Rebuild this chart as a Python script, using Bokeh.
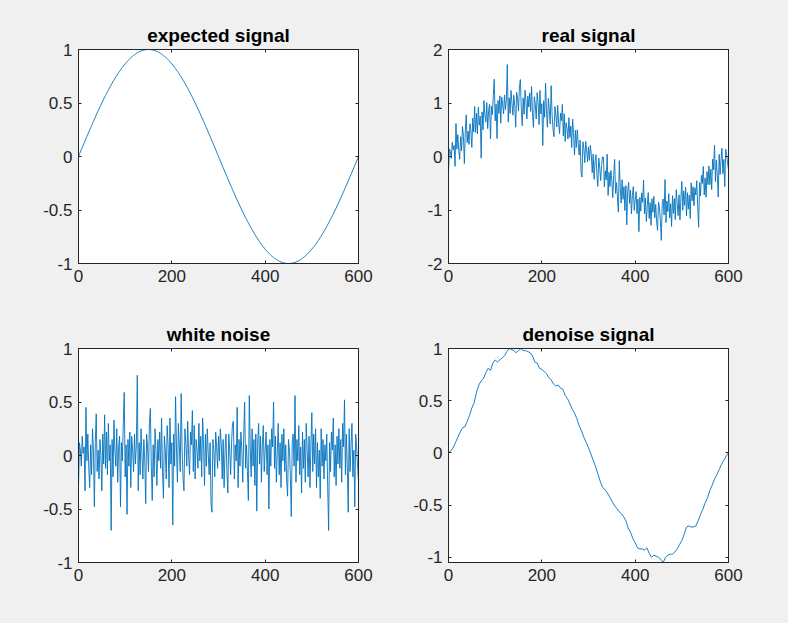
from bokeh.plotting import figure
from bokeh.layouts import column, row
from bokeh.models import (Range1d, LinearAxis, FixedTicker, CustomJSTickFormatter,
                          CustomLabelingPolicy)
from bokeh.embed import file_html
from bokeh.resources import INLINE

# ---------------- data ----------------
sample_x = list(range(0, 601, 2))  # sample positions of the signals

expected = [
    0.000, 0.021, 0.042, 0.063, 0.084, 0.105, 0.125, 0.146, 0.167, 0.187,
    0.208, 0.228, 0.249, 0.269, 0.289, 0.309, 0.329, 0.349, 0.368, 0.388,
    0.407, 0.426, 0.445, 0.463, 0.482, 0.500, 0.518, 0.536, 0.554, 0.571,
    0.588, 0.605, 0.621, 0.637, 0.653, 0.669, 0.685, 0.700, 0.714, 0.729,
    0.743, 0.757, 0.771, 0.784, 0.797, 0.809, 0.821, 0.833, 0.844, 0.855,
    0.866, 0.876, 0.886, 0.896, 0.905, 0.914, 0.922, 0.930, 0.937, 0.944,
    0.951, 0.957, 0.963, 0.969, 0.974, 0.978, 0.982, 0.986, 0.989, 0.992,
    0.995, 0.996, 0.998, 0.999, 1.000, 1.000,
    1.000, 0.999, 0.998, 0.996, 0.995, 0.992, 0.989, 0.986, 0.982, 0.978,
    0.974, 0.969, 0.963, 0.957, 0.951, 0.944, 0.937, 0.930, 0.922, 0.914,
    0.905, 0.896, 0.886, 0.876, 0.866, 0.855, 0.844, 0.833, 0.821, 0.809,
    0.797, 0.784, 0.771, 0.757, 0.743, 0.729, 0.714, 0.700, 0.685, 0.669,
    0.653, 0.637, 0.621, 0.605, 0.588, 0.571, 0.554, 0.536, 0.518, 0.500,
    0.482, 0.463, 0.445, 0.426, 0.407, 0.388, 0.368, 0.349, 0.329, 0.309,
    0.289, 0.269, 0.249, 0.228, 0.208, 0.187, 0.167, 0.146, 0.125, 0.105,
    0.084, 0.063, 0.042, 0.021, 0.000,
    -0.021, -0.042, -0.063, -0.084, -0.105, -0.125, -0.146, -0.167, -0.187,
    -0.208, -0.228, -0.249, -0.269, -0.289, -0.309, -0.329, -0.349, -0.368, -0.388,
    -0.407, -0.426, -0.445, -0.463, -0.482, -0.500, -0.518, -0.536, -0.554, -0.571,
    -0.588, -0.605, -0.621, -0.637, -0.653, -0.669, -0.685, -0.700, -0.714, -0.729,
    -0.743, -0.757, -0.771, -0.784, -0.797, -0.809, -0.821, -0.833, -0.844, -0.855,
    -0.866, -0.876, -0.886, -0.896, -0.905, -0.914, -0.922, -0.930, -0.937, -0.944,
    -0.951, -0.957, -0.963, -0.969, -0.974, -0.978, -0.982, -0.986, -0.989, -0.992,
    -0.995, -0.996, -0.998, -0.999, -1.000, -1.000,
    -1.000, -0.999, -0.998, -0.996, -0.995, -0.992, -0.989, -0.986, -0.982, -0.978,
    -0.974, -0.969, -0.963, -0.957, -0.951, -0.944, -0.937, -0.930, -0.922, -0.914,
    -0.905, -0.896, -0.886, -0.876, -0.866, -0.855, -0.844, -0.833, -0.821, -0.809,
    -0.797, -0.784, -0.771, -0.757, -0.743, -0.729, -0.714, -0.700, -0.685, -0.669,
    -0.653, -0.637, -0.621, -0.605, -0.588, -0.571, -0.554, -0.536, -0.518, -0.500,
    -0.482, -0.463, -0.445, -0.426, -0.407, -0.388, -0.368, -0.349, -0.329, -0.309,
    -0.289, -0.269, -0.249, -0.228, -0.208, -0.187, -0.167, -0.146, -0.125, -0.105,
    -0.084, -0.063, -0.042, -0.021, 0.000,
]

noise = [
    -0.30, 0.12, 0.05, -0.10, 0.18, 0.02, 0.08, -0.33, 0.45, -0.05,
    0.20, -0.12, -0.30, 0.10, -0.18, 0.25, 0.05, -0.48, 0.12, 0.39,
    -0.15, 0.05, -0.22, 0.15, 0.00, -0.33, 0.20, -0.08, 0.38, -0.12,
    0.22, -0.18, 0.30, -0.05, 0.10, -0.70, 0.15, -0.20, 0.33, 0.05,
    -0.10, 0.25, -0.25, 0.08, 0.18, -0.48, 0.12, -0.05, 0.30, 0.59,
    -0.20, 0.10, -0.55, 0.15, -0.10, 0.22, -0.30, 0.18, 0.05, -0.15,
    0.20, -0.08, 0.10, 0.75, -0.33, 0.12, -0.18, 0.25, 0.00, -0.22,
    0.15, -0.05, -0.45, 0.20, 0.08, -0.15, 0.30, 0.44, -0.10, -0.42,
    0.10, -0.20, 0.25, 0.05, -0.28, 0.15, -0.05, 0.22, -0.12, 0.35,
    -0.15, -0.40, 0.18, 0.05, -0.22, 0.28, 0.10, -0.30, 0.35, -0.08,
    0.12, -0.65, 0.20, -0.10, 0.55, 0.05, -0.25, 0.30, 0.10, -0.15,
    0.58, 0.05, -0.20, -0.33, 0.25, 0.12, -0.10, 0.32, 0.00, -0.18,
    0.22, 0.10, 0.42, -0.15, 0.28, -0.22, 0.15, 0.05, -0.12, 0.30,
    -0.05, 0.18, -0.20, 0.35, 0.10, -0.28, 0.20, -0.10, 0.25, 0.02,
    -0.18, 0.12, -0.45, -0.53, 0.15, 0.05, -0.20, 0.22, 0.08, -0.12,
    0.18, -0.05, 0.25, 0.10, -0.22, 0.15, -0.30, 0.05, 0.20, -0.15,
    -0.35, 0.20, 0.05, -0.18, 0.12, 0.30, 0.32, -0.22, 0.10, -0.05,
    0.45, -0.30, 0.15, -0.10, 0.22, 0.05, -0.25, 0.18, 0.50, -0.12,
    0.10, -0.15, -0.42, 0.56, 0.08, -0.20, 0.25, -0.10, 0.15, -0.28,
    0.20, -0.52, 0.12, 0.30, -0.08, 0.18, -0.25, 0.10, 0.28, -0.15,
    0.05, 0.22, -0.18, 0.10, -0.50, 0.15, -0.10, 0.25, 0.08, 0.50,
    -0.12, 0.18, -0.25, 0.05, 0.30, -0.18, 0.12, -0.30, 0.20, -0.05,
    0.25, -0.15, 0.10, -0.22, -0.38, 0.15, 0.05, -0.20, -0.57, 0.12,
    0.20, -0.10, 0.56, -0.25, 0.15, -0.05, 0.28, -0.18, 0.08, -0.35,
    0.22, -0.12, 0.15, -0.25, 0.30, 0.05, -0.20, 0.18, -0.30, 0.10,
    0.40, -0.15, 0.20, -0.08, 0.25, -0.30, 0.12, -0.20, 0.05, -0.40,
    0.25, -0.10, 0.15, -0.22, 0.10, -0.05, 0.20, -0.30, -0.70, 0.12,
    -0.15, 0.22, 0.05, 0.35, -0.20, 0.10, -0.28, 0.18, -0.08, 0.25,
    -0.12, 0.15, -0.25, 0.30, 0.08, 0.52, -0.18, 0.20, -0.10, -0.53,
    0.25, -0.15, 0.10, 0.30, -0.20, 0.05, -0.48, 0.20, 0.08, -0.10,
    -0.25,
]

real = [e + n for e, n in zip(expected, noise)]

denoise_x = list(range(0, 601, 5))
denoise = [
    0.00, 0.02, 0.05, 0.10, 0.15, 0.20, 0.24, 0.25, 0.30, 0.36,
    0.43, 0.48, 0.58, 0.65, 0.69, 0.71, 0.77, 0.81, 0.79, 0.86,
    0.89, 0.87, 0.89, 0.91, 0.93, 0.97, 1.00, 0.99, 0.98, 0.96,
    0.98, 1.00, 0.98, 0.98, 0.97, 0.96, 0.93, 0.87, 0.86, 0.81,
    0.80, 0.78, 0.76, 0.72, 0.70, 0.66, 0.64, 0.65, 0.62, 0.61,
    0.55, 0.52, 0.47, 0.42, 0.38, 0.33, 0.26, 0.21, 0.15, 0.10,
    0.05, -0.01, -0.07, -0.13, -0.20, -0.27, -0.33, -0.35, -0.38, -0.42,
    -0.46, -0.50, -0.53, -0.56, -0.58, -0.61, -0.65, -0.72, -0.76, -0.82,
    -0.86, -0.91, -0.92, -0.92, -0.93, -0.91, -0.96, -1.00, -0.98, -0.99,
    -1.00, -1.02, -1.05, -1.00, -0.98, -0.97, -0.97, -0.95, -0.92, -0.88,
    -0.84, -0.78, -0.71, -0.70, -0.71, -0.71, -0.70, -0.65, -0.59, -0.54,
    -0.48, -0.43, -0.36, -0.31, -0.25, -0.21, -0.16, -0.11, -0.07, -0.03,
    0.00,
]

titles = ["expected signal", "real signal", "white noise", "denoise signal"]
x_ticks = [0, 200, 400, 600]
y_ticks_unit = [-1, -0.5, 0, 0.5, 1]
y_ticks_two = [-2, -1, 0, 1, 2]

# ---------------- styling ----------------
BG = "#f0f0f0"
AX = "#262626"
LINE = "#0072bd"
FONT = "Liberation Sans"
FRAME_W, FRAME_H = 280, 214

NO_LABELS = """
for (const i of indices) indices.unset(i)
return indices
"""


def mirror_axis(ticks):
    return LinearAxis(ticker=FixedTicker(ticks=ticks), major_tick_in=3, major_tick_out=0,
                      minor_tick_line_color=None, axis_line_color=AX,
                      major_tick_line_color=AX, major_label_standoff=0,
                      major_label_text_font_size="0px",
                      major_label_policy=CustomLabelingPolicy(code=NO_LABELS))


def panel(title, xs, ys, yrange, yticks, ml, mr, mt, mb):
    p = figure(frame_width=FRAME_W, frame_height=FRAME_H,
               x_range=Range1d(0, 600), y_range=Range1d(*yrange),
               output_backend="svg", toolbar_location=None,
               min_border_left=ml, min_border_right=mr,
               min_border_top=mt, min_border_bottom=mb,
               background_fill_color="white", border_fill_color=BG,
               outline_line_color=AX, outline_line_width=1)
    p.title.text = title
    p.title.align = "center"
    p.title.text_font = FONT
    p.title.text_font_size = "19px"
    p.title.text_font_style = "bold"
    p.title.text_color = "#000000"
    p.title.standoff = 8
    p.grid.visible = False

    fmt = CustomJSTickFormatter(code="return tick.toString();")
    for ax in p.xaxis + p.yaxis:
        ax.major_tick_in = 3
        ax.major_tick_out = 0
        ax.minor_tick_line_color = None
        ax.axis_line_color = AX
        ax.major_tick_line_color = AX
        ax.major_label_text_font = FONT
        ax.major_label_text_font_size = "17px"
        ax.major_label_text_color = AX
        ax.major_label_standoff = 6
        ax.formatter = fmt
    p.xaxis.ticker = FixedTicker(ticks=x_ticks)
    p.yaxis.ticker = FixedTicker(ticks=yticks)

    p.add_layout(mirror_axis(x_ticks), "above")
    p.add_layout(mirror_axis(yticks), "right")

    p.line(xs, ys, line_color=LINE, line_width=0.9)
    return p


p1 = panel(titles[0], sample_x, expected, (-1, 1), y_ticks_unit, 78, 45, 49, 42)
p2 = panel(titles[1], sample_x, real, (-2, 2), y_ticks_two, 45, 60, 49, 42)
p3 = panel(titles[2], sample_x, noise, (-1, 1), y_ticks_unit, 78, 45, 43, 61)
p4 = panel(titles[3], denoise_x, denoise, (-1.05, 1.0), y_ticks_unit, 45, 60, 43, 61)

layout = column(row(p1, p2, spacing=0), row(p3, p4, spacing=0), spacing=0,
                styles={"background-color": BG})

open("out.html", "w").write(file_html(layout, INLINE))
